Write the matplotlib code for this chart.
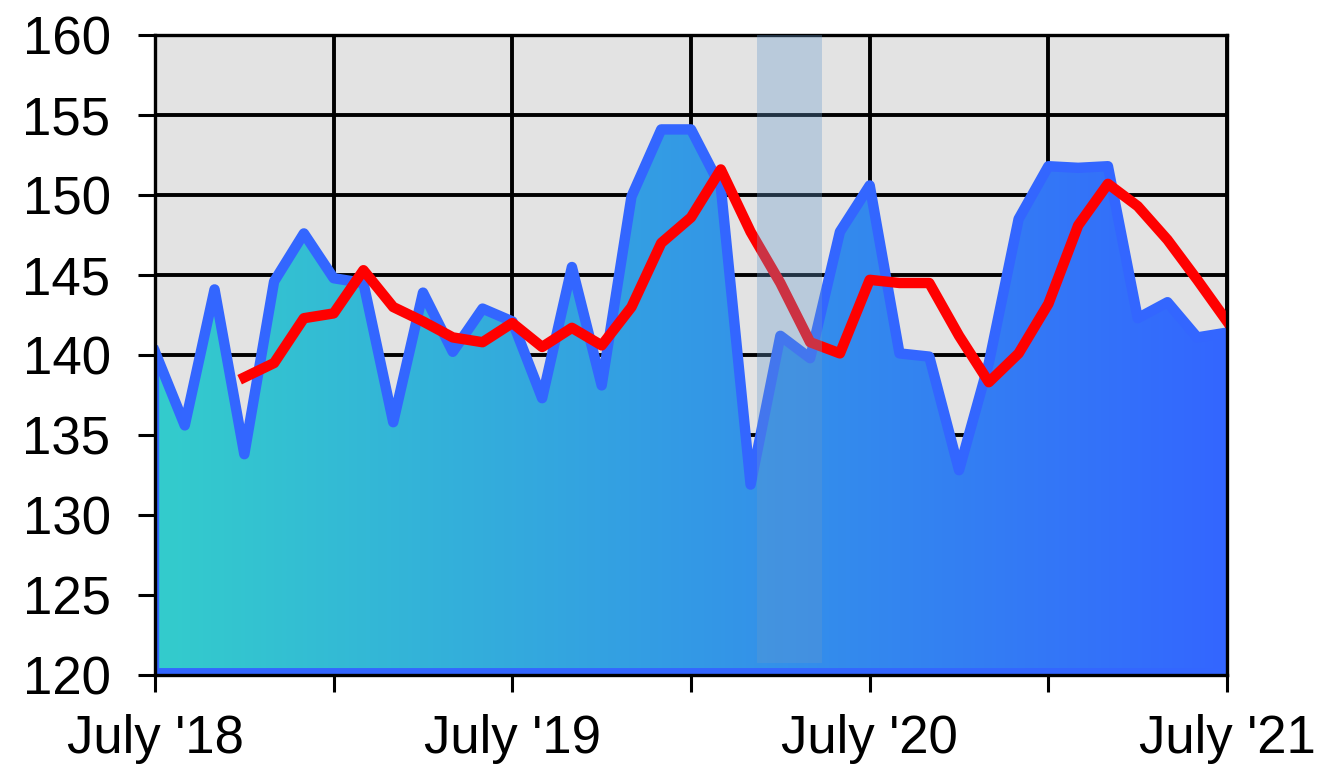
import matplotlib.pyplot as plt
import numpy as np
from matplotlib.colors import LinearSegmentedColormap
from matplotlib.patches import Polygon

# monthly values, July 2018 .. July 2021
months = np.arange(37)
values = [140.2, 135.6, 144.1, 133.8, 144.6, 147.6, 144.8, 144.5, 135.8, 143.9,
          140.2, 142.9, 142.1, 137.3, 145.5, 138.1, 149.9, 154.1, 154.1, 150.5,
          131.9, 141.2, 139.8, 147.7, 150.6, 140.1, 139.9, 132.8, 139.5, 148.5,
          151.8, 151.7, 151.8, 142.3, 143.3, 141.1, 141.4]

# moving average line (starts at the 4th month)
avg_months = np.arange(3, 37)
avg_values = [138.6, 139.5, 142.3, 142.6, 145.3, 143.0, 142.1, 141.1, 140.8, 142.0,
              140.5, 141.7, 140.6, 143.0, 147.0, 148.6, 151.6, 147.7, 144.5, 140.8,
              140.1, 144.7, 144.5, 144.5, 141.2, 138.3, 140.1, 143.2, 148.1, 150.7,
              149.3, 147.2, 144.7, 142.1]

band = (20.2, 22.4)
tick_pos = [0, 6, 12, 18, 24, 30, 36]
tick_labels = ["July '18", "", "July '19", "", "July '20", "", "July '21"]

plt.rcParams['font.family'] = ['Liberation Sans', 'DejaVu Sans']

fig = plt.figure(figsize=(13.19, 7.68), dpi=100)
ax = fig.add_axes([0.1175, 0.1211, 0.8128, 0.8333])
ax.set_facecolor('#e3e3e3')
ax.set_xlim(0, 36)
ax.set_ylim(120, 160)

# gradient filled area under the line
base = 120
verts = [(months[0], base)] + list(zip(months, values)) + [(months[-1], base)]
poly = Polygon(verts, closed=True, facecolor='none', edgecolor='none', zorder=2)
ax.add_patch(poly)
cmap = LinearSegmentedColormap.from_list('grad', ['#33cccc', '#3366ff'])
grad = np.linspace(0, 1, 256).reshape(1, -1)
img = ax.imshow(grad, cmap=cmap, extent=[0, 36, 120, 160], aspect='auto',
                zorder=1.5, interpolation='bilinear')
img.set_clip_path(poly)

# outline of the area along the bottom and left edge
ax.plot([months[0], months[-1]], [base, base], color='#3366ff', linewidth=10,
        zorder=2.5)
ax.plot([months[0], months[0]], [base, values[0]], color='#3366ff', linewidth=6,
        zorder=2.5)

ax.plot(months, values, color='#3366ff', linewidth=7.5, zorder=3,
        solid_joinstyle='round')
ax.plot(avg_months, avg_values, color='#ff0000', linewidth=7.5, zorder=4,
        solid_joinstyle='round')

ax.axvspan(band[0], band[1], ymin=0.018, ymax=1, color='#6699cc', alpha=0.33,
           linewidth=0, zorder=6)

ax.set_xticks(tick_pos)
ax.set_xticklabels(tick_labels)
ax.set_yticks(np.arange(120, 161, 5))
ax.grid(True, color='black', linewidth=2.8)
ax.set_axisbelow(True)
for s in ax.spines.values():
    s.set_linewidth(2.4)
    s.set_color('black')
    s.set_zorder(5)
ax.tick_params(axis='both', length=12, width=2.2, labelsize=38, colors='black')
ax.tick_params(axis='y', pad=20)
ax.tick_params(axis='x', pad=16)

fig.savefig('out.png', dpi=100)
